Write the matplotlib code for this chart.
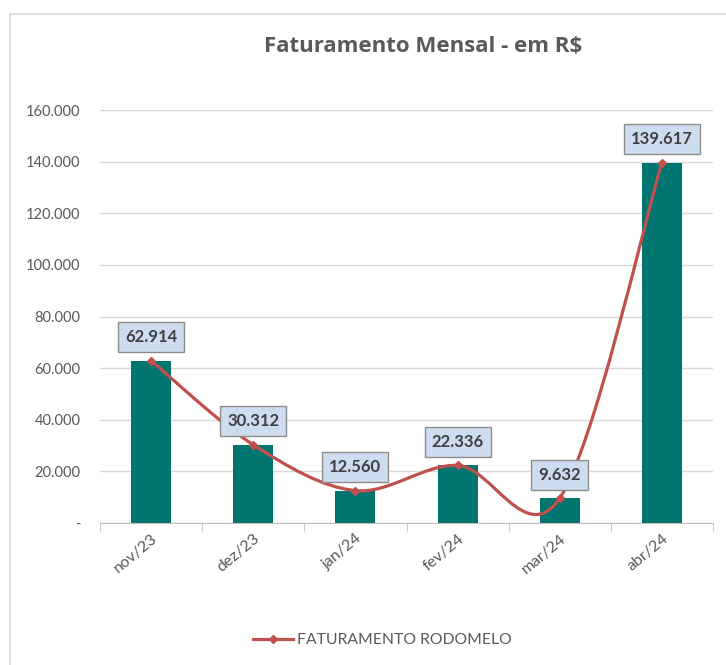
import matplotlib
matplotlib.use("Agg")
import matplotlib.pyplot as plt
from matplotlib.path import Path
from matplotlib.patches import PathPatch, Rectangle
from matplotlib.lines import Line2D

plt.rcParams['font.family'] = ['Lato', 'DejaVu Sans']

# data
months = ["nov/23", "dez/23", "jan/24", "fev/24", "mar/24", "abr/24"]
faturamento = [62914, 30312, 12560, 22336, 9632, 139617]
value_labels = ["62.914", "30.312", "12.560", "22.336", "9.632", "139.617"]
y_ticks = [0, 20000, 40000, 60000, 80000, 100000, 120000, 140000, 160000]
y_tick_labels = ["-", "20.000", "40.000", "60.000", "80.000",
                 "100.000", "120.000", "140.000", "160.000"]

BAR = "#00756f"
LINE = "#c0504d"
GRAY = "#595959"

fig = plt.figure(figsize=(7.26, 6.65), dpi=100)
# chart frame like the spreadsheet chart object
fig.patches.append(Rectangle((10 / 726, -0.1), 1.2, 1 - 14 / 665 + 0.1,
                             transform=fig.transFigure, fill=False,
                             edgecolor="#d9d9d9", lw=1.2))

ax = fig.add_axes([100 / 726, 1 - 523 / 665, 613 / 726, 413 / 665])
x = list(range(len(months)))

ax.bar(x, faturamento, width=0.39, color=BAR, zorder=2)

# smoothed line (catmull-rom style bezier, like the spreadsheet's smoothing)
verts = [(x[0], faturamento[0])]
codes = [Path.MOVETO]
n = len(x)
for i in range(n - 1):
    p0 = (x[max(i - 1, 0)], faturamento[max(i - 1, 0)])
    p1 = (x[i], faturamento[i])
    p2 = (x[i + 1], faturamento[i + 1])
    p3 = (x[min(i + 2, n - 1)], faturamento[min(i + 2, n - 1)])
    c1 = (p1[0] + (p2[0] - p0[0]) / 6, p1[1] + (p2[1] - p0[1]) / 6)
    c2 = (p2[0] - (p3[0] - p1[0]) / 6, p2[1] - (p3[1] - p1[1]) / 6)
    verts += [c1, c2, p2]
    codes += [Path.CURVE4] * 3
ax.add_patch(PathPatch(Path(verts, codes), fill=False, edgecolor=LINE,
                       lw=2.3, zorder=3, capstyle="round"))
ax.plot(x, faturamento, ls="none", marker="D", ms=4, color=LINE, zorder=4)

for xi, v, lab in zip(x, faturamento, value_labels):
    ax.annotate(lab, (xi, v), xytext=(0, 17), textcoords="offset points",
                ha="center", va="center", fontsize=12, fontweight="bold",
                color="#404040", zorder=5,
                bbox=dict(boxstyle="square,pad=0.42", fc="#cddcef",
                          ec="#8c8c8c", lw=1))

ax.set_xlim(-0.5, n - 0.5)
ax.set_ylim(0, 160000)
ax.set_yticks(y_ticks)
ax.set_yticklabels(y_tick_labels)
ax.set_xticks(x)
ax.set_xticklabels(months, rotation=40, ha="right", rotation_mode="anchor")
ax.set_xticks([i - 0.5 for i in range(n + 1)], minor=True)
ax.tick_params(axis="x", which="major", length=0, pad=6, labelsize=11.5,
               labelcolor=GRAY)
ax.tick_params(axis="x", which="minor", length=6, color="#bfbfbf")
ax.tick_params(axis="y", length=0, pad=14, labelsize=10.5, labelcolor=GRAY)
ax.grid(axis="y", color="#d9d9d9", lw=1, zorder=0)
ax.set_axisbelow(True)
for s in ["top", "right", "left"]:
    ax.spines[s].set_visible(False)
ax.spines["bottom"].set_color("#bfbfbf")

fig.text(423 / 726, 1 - 46 / 665, "Faturamento Mensal - em R$", ha="center",
         va="center", fontsize=16, fontweight="bold", color=GRAY,
         family="Open Sans")

handle = Line2D([], [], color=LINE, lw=2.3, marker="D", ms=4)
fig.legend([handle], ["FATURAMENTO RODOMELO"], loc="center",
           bbox_to_anchor=(382 / 726, 1 - 640 / 665), frameon=False,
           fontsize=11.3, labelcolor=GRAY, handlelength=2.6, handletextpad=0.2)

fig.savefig("out.png", dpi=100, facecolor="white")
